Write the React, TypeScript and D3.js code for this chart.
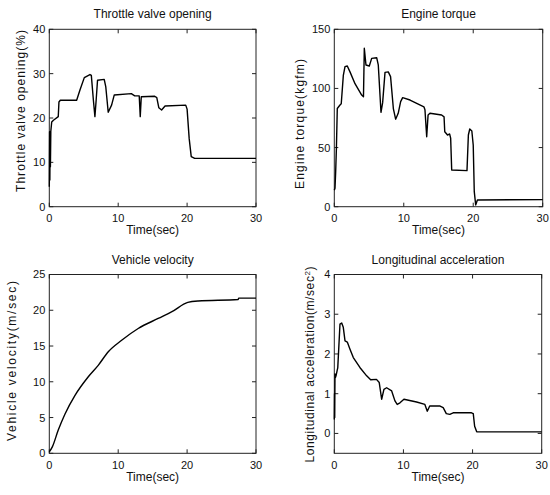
import React from 'react';
import * as d3 from 'd3';

// ---- Data ----
const timeTicks = [0, 10, 20, 30];

const throttleT = [0, 0.04, 0.08, 0.12, 0.16, 0.22, 0.35, 0.6, 1.3, 1.4, 1.6, 3.97, 4.45, 5.08, 5.9, 6.1, 6.4, 6.62, 6.8, 7.0, 7.97, 8.2, 8.55, 9.04, 9.43, 11.9, 12.4, 13.05, 13.2, 13.35, 15.3, 15.6, 15.9, 16.3, 16.8, 19.8, 20.0, 20.3, 20.6, 21.1, 30];
const throttleV = [4.5, 16.9, 6, 15.5, 9, 17, 19.1, 19.5, 20.3, 23.6, 24, 24, 26.3, 29.1, 29.8, 29.6, 24, 20.3, 24, 28.5, 28.7, 27, 21.3, 22.9, 25.2, 25.5, 25, 25, 20.3, 24.8, 24.9, 24.6, 22.3, 21.8, 22.7, 22.9, 22.0, 15.4, 11.3, 10.9, 10.9];
const throttleTicks = [0, 10, 20, 30, 40];

const torqueT = [0, 0.1, 0.2, 0.3, 0.43, 0.82, 1.0, 1.3, 1.54, 1.87, 2.26, 2.98, 3.94, 4.2, 4.32, 4.56, 5.04, 5.38, 6.1, 6.33, 6.72, 6.96, 7.3, 7.77, 8.1, 8.5, 8.83, 9.2, 9.55, 9.84, 10.9, 12.9, 13.05, 13.3, 13.5, 13.77, 15.45, 15.8, 15.9, 16.3, 16.6, 16.75, 16.9, 19.1, 19.3, 19.5, 19.8, 20.0, 20.15, 20.35, 20.6, 30];
const torqueV = [14, 15.5, 30, 49, 83, 86, 87, 111, 118.4, 119, 114, 104, 94.4, 93, 134, 119.8, 119, 125.4, 126, 120, 79.8, 88, 113.6, 114, 110, 83, 74, 79, 88.8, 92.2, 90.2, 84.5, 82, 59.2, 77.5, 79, 77.5, 76, 63.4, 60.6, 61.5, 58, 31, 30.5, 60.6, 65.7, 64, 52, 12.7, 1.5, 5.7, 6];
const torqueTicks = [0, 50, 100, 150];

const velocityT = [0, 0.44, 1.3, 2.28, 3.73, 5.66, 7.1, 8.56, 10.5, 12.9, 15.8, 17.8, 20.1, 21.6, 27.4, 27.5, 30];
const velocityV = [0.2, 0.9, 3.25, 5.5, 8.1, 10.7, 12.3, 14.2, 15.8, 17.45, 18.85, 19.8, 21.1, 21.3, 21.5, 21.7, 21.7];
const velocityTicks = [0, 5, 10, 15, 20, 25];

const accelT = [0, 0.03, 0.06, 0.1, 0.15, 0.25, 0.43, 0.5, 0.82, 1.07, 1.3, 1.55, 1.88, 2.27, 2.75, 3.7, 4.68, 5.26, 6.1, 6.5, 6.85, 7.18, 7.57, 8.3, 8.77, 9.1, 9.5, 10.07, 11.9, 13.1, 13.45, 13.8, 15.3, 15.75, 16.2, 16.7, 17.2, 19.85, 20.1, 20.3, 20.6, 30];
const accelV = [0.35, 1.0, 0.4, 1.5, 1.4, 1.45, 1.6, 1.65, 2.75, 2.78, 2.67, 2.33, 2.3, 2.12, 1.91, 1.66, 1.45, 1.35, 1.36, 1.28, 0.86, 1.11, 1.15, 1.07, 0.82, 0.73, 0.77, 0.86, 0.79, 0.73, 0.56, 0.69, 0.69, 0.65, 0.5, 0.48, 0.52, 0.52, 0.5, 0.18, 0.04, 0.04];
const accelTicks = [0, 1, 2, 3, 4];

const FONT = '"Liberation Sans", Arial, Helvetica, sans-serif';

type PanelProps = {
  box: [number, number, number, number];
  yDomain: [number, number];
  yTicks: number[];
  t: number[];
  v: number[];
  smooth?: boolean;
  title: string;
  titleY: number;
  ylabel: React.ReactNode;
  ylabelPos: [number, number, number];
};

function Panel({ box, yDomain, yTicks, t, v, smooth, title, titleY, ylabel, ylabelPos }: PanelProps) {
  const [x0, y0, x1, y1] = box;
  const x = d3.scaleLinear().domain([0, 30]).range([x0, x1]);
  const y = d3.scaleLinear().domain(yDomain).range([y1, y0]);
  const pts: [number, number][] = t.map((ti, i) => [ti, v[i]]);
  const line = d3.line<[number, number]>().x(d => x(d[0])).y(d => y(d[1]));
  if (smooth) line.curve(d3.curveMonotoneX);
  const tl = 4;
  const cx = (x0 + x1) / 2;
  return (
    <g>
      <rect x={x0} y={y0} width={x1 - x0} height={y1 - y0} fill="white" stroke="#222" strokeWidth={1} />
      {timeTicks.map(tk => (
        <g key={'x' + tk}>
          <line x1={x(tk)} x2={x(tk)} y1={y1} y2={y1 - tl} stroke="#222" />
          <line x1={x(tk)} x2={x(tk)} y1={y0} y2={y0 + tl} stroke="#222" />
          <text x={x(tk)} y={y1 + 15.5} textAnchor="middle" fontSize={11} fontFamily={FONT} fill="#111">{tk}</text>
        </g>
      ))}
      {yTicks.map(tk => (
        <g key={'y' + tk}>
          <line x1={x0} x2={x0 + tl} y1={y(tk)} y2={y(tk)} stroke="#222" />
          <line x1={x1} x2={x1 - tl} y1={y(tk)} y2={y(tk)} stroke="#222" />
          <text x={x0 - 4} y={y(tk)} dy="0.36em" textAnchor="end" fontSize={11} fontFamily={FONT} fill="#111">{tk}</text>
        </g>
      ))}
      <path d={line(pts) || ''} fill="none" stroke="#000" strokeWidth={1.4} strokeLinejoin="round" />
      <text x={cx} y={titleY} textAnchor="middle" fontSize={12} fontFamily={FONT} fill="#111">{title}</text>
      <text x={cx} y={y1 + 27.5} textAnchor="middle" fontSize={12} fontFamily={FONT} fill="#111">Time(sec)</text>
      <text
        transform={`translate(${ylabelPos[0]},${ylabelPos[1]}) rotate(-90)`}
        textAnchor="middle"
        dy="0.35em"
        fontSize={12}
        fontFamily={FONT}
        fill="#111"
        textLength={ylabelPos[2]}
        lengthAdjust="spacing"
      >
        {ylabel}
      </text>
    </g>
  );
}

export default function App() {
  return (
    <svg width={550} height={495} style={{ position: 'absolute', left: 0, top: 0, background: 'white' }}>
      <rect x={0} y={0} width={550} height={495} fill="white" />
      <Panel box={[49.3, 29.3, 256, 206.7]} yDomain={[0, 40]} yTicks={throttleTicks} t={throttleT} v={throttleV}
        title="Throttle valve opening" titleY={18} ylabel="Throttle valve opening(%)" ylabelPos={[20.7, 111, 162]} />
      <Panel box={[334.3, 29.3, 542.7, 206.7]} yDomain={[0, 150]} yTicks={torqueTicks} t={torqueT} v={torqueV}
        title="Engine torque" titleY={18} ylabel="Engine torque(kgfm)" ylabelPos={[300, 124, 130]} />
      <Panel box={[49.3, 274.5, 256, 453.3]} yDomain={[0, 25]} yTicks={velocityTicks} t={velocityT} v={velocityV} smooth
        title="Vehicle velocity" titleY={264} ylabel="Vehicle velocity(m/sec)" ylabelPos={[12, 361, 160]} />
      <Panel box={[334.3, 274.5, 541.7, 453.3]} yDomain={[-0.5, 4]} yTicks={accelTicks} t={accelT} v={accelV}
        title="Longitudinal acceleration" titleY={264}
        ylabel={<>Longitudinal acceleration(m/sec<tspan baselineShift="super" fontSize={8}>2</tspan><tspan baselineShift="0">)</tspan></>}
        ylabelPos={[310, 364.5, 196]} />
    </svg>
  );
}
